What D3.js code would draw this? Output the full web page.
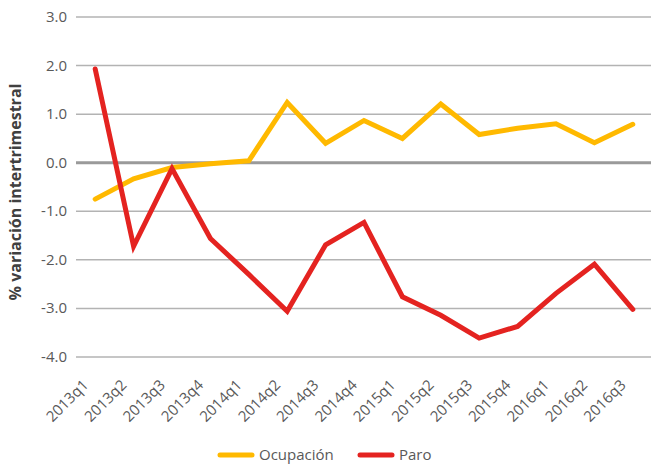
<!DOCTYPE html>
<html>
<head>
<meta charset="utf-8">
<script src="https://cdn.jsdelivr.net/npm/d3@7"></script>
<style>
  body { margin: 0; background: #fff; }
  text { font-family: "Open Sans", "Noto Sans", sans-serif; fill: #595959; }
</style>
</head>
<body>
<svg id="canvas"></svg>
<script>
var quarters = ["2013q1", "2013q2", "2013q3", "2013q4", "2014q1", "2014q2", "2014q3", "2014q4",
  "2015q1", "2015q2", "2015q3", "2015q4", "2016q1", "2016q2", "2016q3"];
var ocupacion = [-0.75, -0.33, -0.1, -0.02, 0.04, 1.24, 0.4, 0.87, 0.5, 1.21, 0.58, 0.71, 0.8, 0.41, 0.79];
var paro = [1.93, -1.72, -0.12, -1.56, -2.3, -3.06, -1.69, -1.23, -2.76, -3.14, -3.61, -3.37, -2.69, -2.09, -3.02];
var yTicks = [3, 2, 1, 0, -1, -2, -3, -4];
var seriesNames = ["Ocupación", "Paro"];
var colors = ["#ffb900", "#e42320"];

var W = 652, H = 466;
var svg = d3.select("#canvas").attr("width", W).attr("height", H);

var x = d3.scaleBand().domain(quarters).range([76, 652]);
var y = d3.scaleLinear().domain([-4, 3]).range([357, 17]);

// grid lines
svg.append("g").selectAll("line")
    .data(yTicks)
  .enter().append("line")
    .attr("x1", 76).attr("x2", 651)
    .attr("y1", function(d) { return y(d); })
    .attr("y2", function(d) { return y(d); })
    .attr("stroke", function(d) { return d === 0 ? "#9a9a9a" : "#b3b3b3"; })
    .attr("stroke-width", function(d) { return d === 0 ? 3 : 1.5; });

// y labels
svg.append("g").selectAll("text")
    .data(yTicks)
  .enter().append("text")
    .attr("x", 67)
    .attr("y", function(d) { return y(d) + 5; })
    .attr("text-anchor", "end")
    .style("font-size", "15px")
    .text(function(d) { return d.toFixed(1); });

// x labels
svg.append("g").selectAll("text")
    .data(quarters)
  .enter().append("text")
    .attr("transform", function(d) {
      return "translate(" + (x(d) + x.bandwidth() / 2 - 6) + ",386) rotate(-45)";
    })
    .attr("text-anchor", "end")
    .style("font-size", "15px")
    .text(function(d) { return d; });

// axis title
svg.append("text")
    .attr("transform", "translate(21,192) rotate(-90)")
    .attr("text-anchor", "middle")
    .style("font-size", "16px")
    .style("font-weight", "bold")
    .style("fill", "#404040")
    .text("% variación intertrimestral");

var line = d3.line()
    .x(function(d, i) { return x(quarters[i]) + x.bandwidth() / 2; })
    .y(function(d) { return y(d); });

[ocupacion, paro].forEach(function(s, i) {
  svg.append("path")
    .datum(s)
    .attr("d", line)
    .attr("fill", "none")
    .attr("stroke", colors[i])
    .attr("stroke-width", 5)
    .attr("stroke-linejoin", "miter")
    .attr("stroke-linecap", "round");
});

// legend
var legendX = [218, 358];
seriesNames.forEach(function(name, i) {
  svg.append("line")
    .attr("x1", legendX[i] + 2).attr("x2", legendX[i] + 34)
    .attr("y1", 455).attr("y2", 455)
    .attr("stroke", colors[i])
    .attr("stroke-width", 5)
    .attr("stroke-linecap", "round");
  svg.append("text")
    .attr("x", legendX[i] + 41)
    .attr("y", 460)
    .style("font-size", "15px")
    .text(name);
});
</script>
</body>
</html>
